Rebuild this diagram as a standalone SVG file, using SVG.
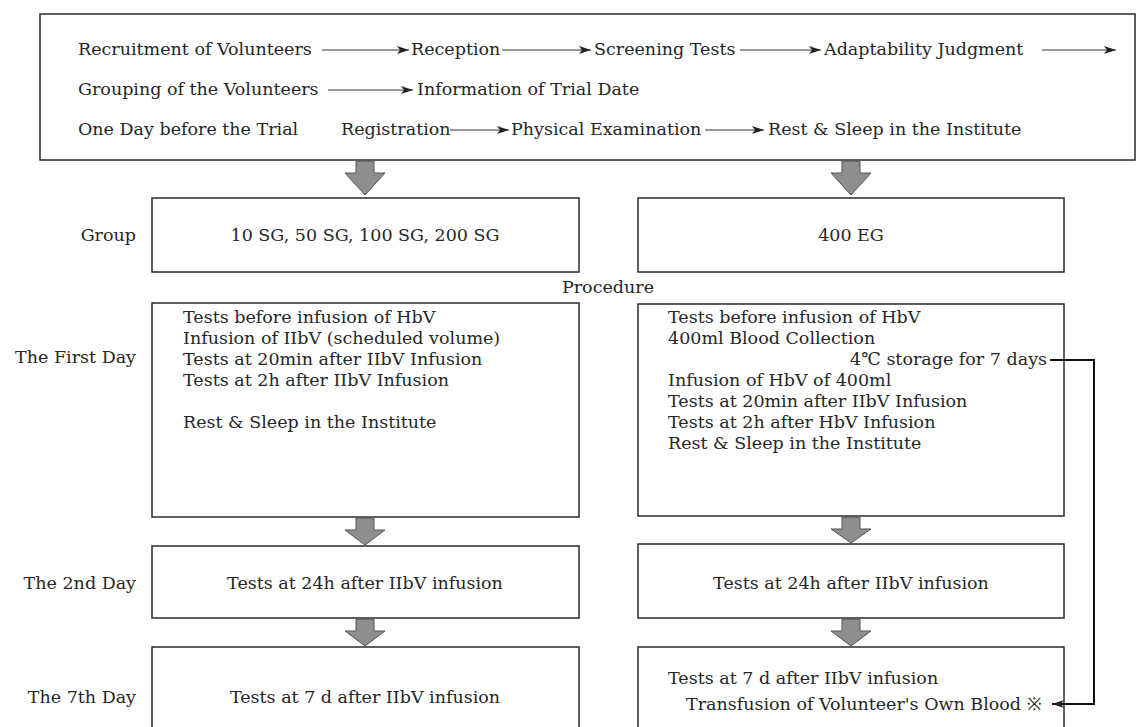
<svg xmlns="http://www.w3.org/2000/svg" width="1136" height="727" viewBox="0 0 1136 727">
<defs>
<style>
text{font-family:"DejaVu Serif","Liberation Serif",serif;font-size:17.5px;fill:#262626;}
.box{fill:#fff;stroke:#2a2a2a;stroke-width:1.5;}
.thin{stroke:#333;stroke-width:1.1;fill:none;}
.blk{fill:#8e8e8e;stroke:#555;stroke-width:1;}
.conn{stroke:#111;stroke-width:2;fill:none;}
.mid{text-anchor:middle;}
.end{text-anchor:end;}
</style>
<marker id="ah" markerUnits="userSpaceOnUse" viewBox="0 0 12 8" markerWidth="12" markerHeight="8" refX="12" refY="4" orient="auto">
<path d="M0,0 L12,4 L0,8 L3,4 Z" fill="#222"/>
</marker>
</defs>
<rect width="1136" height="727" fill="#fff"/>

<g id="top">
<rect class="box" x="40" y="14" width="1095" height="146"/>
<text x="78" y="55">Recruitment of Volunteers</text>
<text x="411" y="55">Reception</text>
<text x="594" y="55">Screening Tests</text>
<text x="824" y="55">Adaptability Judgment</text>
<text x="78" y="95">Grouping of the Volunteers</text>
<text x="417" y="95">Information of Trial Date</text>
<text x="78" y="135">One Day before the Trial</text>
<text x="341" y="135">Registration</text>
<text x="511" y="135">Physical Examination</text>
<text x="768" y="135">Rest &amp; Sleep in the Institute</text>
</g>

<g id="labels">
<text class="end" x="136" y="241">Group</text>
<text class="mid" x="608" y="293">Procedure</text>
<text class="end" x="136" y="363">The First Day</text>
<text class="end" x="136" y="589">The 2nd Day</text>
<text class="end" x="136" y="703">The 7th Day</text>
</g>

<g id="group-left">
<rect class="box" x="152" y="198" width="427" height="74"/>
<text class="mid" x="365" y="241">10 SG, 50 SG, 100 SG, 200 SG</text>
</g>
<g id="group-right">
<rect class="box" x="638" y="198" width="426" height="74"/>
<text class="mid" x="851" y="241">400 EG</text>
</g>

<g id="day1-left">
<rect class="box" x="152" y="303" width="427" height="214"/>
<text x="183" y="323">Tests before infusion of HbV</text>
<text x="183" y="344">Infusion of IIbV (scheduled volume)</text>
<text x="183" y="365">Tests at 20min after IIbV Infusion</text>
<text x="183" y="386">Tests at 2h after IIbV Infusion</text>
<text x="183" y="428">Rest &amp; Sleep in the Institute</text>
</g>
<g id="day1-right">
<rect class="box" x="638" y="304" width="426" height="212"/>
<text x="668" y="323">Tests before infusion of HbV</text>
<text x="668" y="344">400ml Blood Collection</text>
<text class="end" x="1047" y="365">4℃ storage for 7 days</text>
<text x="668" y="386">Infusion of HbV of 400ml</text>
<text x="668" y="407">Tests at 20min after IIbV Infusion</text>
<text x="668" y="428">Tests at 2h after HbV Infusion</text>
<text x="668" y="449">Rest &amp; Sleep in the Institute</text>
</g>

<g id="day2-left">
<rect class="box" x="152" y="546" width="427" height="72"/>
<text class="mid" x="365" y="589">Tests at 24h after IIbV infusion</text>
</g>
<g id="day2-right">
<rect class="box" x="638" y="544" width="426" height="74"/>
<text class="mid" x="851" y="589">Tests at 24h after IIbV infusion</text>
</g>

<g id="day7-left">
<rect class="box" x="152" y="647" width="427" height="100"/>
<text class="mid" x="365" y="703">Tests at 7 d after IIbV infusion</text>
</g>
<g id="day7-right">
<rect class="box" x="638" y="647" width="426" height="100"/>
<text x="668" y="684">Tests at 7 d after IIbV infusion</text>
<text x="686" y="710">Transfusion of Volunteer's Own Blood  ※</text>
</g>

<g id="connectors">
<line class="thin" x1="322" y1="50" x2="409" y2="50" marker-end="url(#ah)"/>
<line class="thin" x1="502" y1="50" x2="591" y2="50" marker-end="url(#ah)"/>
<line class="thin" x1="740" y1="50" x2="821" y2="50" marker-end="url(#ah)"/>
<line class="thin" x1="1042" y1="50" x2="1116" y2="50" marker-end="url(#ah)"/>
<line class="thin" x1="328" y1="90" x2="413" y2="90" marker-end="url(#ah)"/>
<line class="thin" x1="450" y1="130" x2="509" y2="130" marker-end="url(#ah)"/>
<line class="thin" x1="705" y1="130" x2="764" y2="130" marker-end="url(#ah)"/>
<polygon class="blk" points="356,161 374,161 374,173 385,173 365,195 345,173 356,173"/>
<polygon class="blk" points="842,161 860,161 860,173 871,173 851,195 831,173 842,173"/>
<polygon class="blk" points="356,518 374,518 374,530 385,530 365,545 345,530 356,530"/>
<polygon class="blk" points="842,517 860,517 860,529 871,529 851,543 831,529 842,529"/>
<polygon class="blk" points="356,619 374,619 374,631 385,631 365,646 345,631 356,631"/>
<polygon class="blk" points="842,619 860,619 860,631 871,631 851,646 831,631 842,631"/>
<polyline class="conn" points="1050,360 1094,360 1094,704 1052,704" marker-end="url(#ah)"/>
</g>
</svg>
